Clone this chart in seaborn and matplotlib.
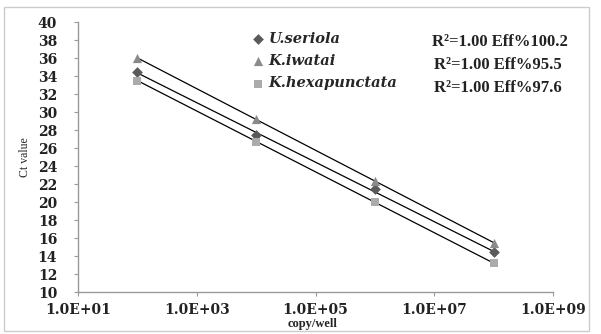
import numpy as np
import pandas as pd
import matplotlib
matplotlib.use("Agg")
import matplotlib.pyplot as plt
import seaborn as sns
from matplotlib.patches import Rectangle

copies = [1e2, 1e4, 1e6, 1e8]
u_seriola = [34.4, 27.5, 21.4, 14.4]
k_iwatai = [36.0, 29.2, 22.3, 15.5]
k_hexapunctata = [33.5, 26.7, 20.0, 13.2]
series_names = ["U.seriola", "K.iwatai", "K.hexapunctata"]
stats_text = ["R²=1.00 Eff%100.2", "R²=1.00 Eff%95.5", "R²=1.00 Eff%97.6"]
y_ticks = list(range(10, 41, 2))
x_ticks = [1e1, 1e3, 1e5, 1e7, 1e9]
x_ticklabels = ["1.0E+01", "1.0E+03", "1.0E+05", "1.0E+07", "1.0E+09"]

df = pd.DataFrame({
    "copy": copies * 3,
    "ct": u_seriola + k_iwatai + k_hexapunctata,
    "series": [s for s in series_names for _ in copies],
})

sns.set_style("white")
plt.rcParams["font.family"] = ["DejaVu Serif"]

fig = plt.figure(figsize=(6.01, 3.34), dpi=100)
ax = fig.add_axes([78/601, 1-292/334, (553-78)/601, (292-22)/334])
ax.set_xscale("log")

colors = {"U.seriola": "#5a5a5a", "K.iwatai": "#8a8a8a", "K.hexapunctata": "#ababab"}
markers = {"U.seriola": "D", "K.iwatai": "^", "K.hexapunctata": "s"}
sizes = {"U.seriola": 30, "K.iwatai": 44, "K.hexapunctata": 38}

for name in series_names:
    sub = df[df.series == name]
    sns.regplot(data=sub, x="copy", y="ct", logx=True, ci=None, scatter=False,
                ax=ax, line_kws=dict(color="black", lw=0.9))

handles = []
for name in series_names:
    sub = df[df.series == name]
    h = ax.scatter(sub["copy"], sub["ct"], marker=markers[name], s=sizes[name],
                   color=colors[name], zorder=3, linewidths=0, label=name)
    handles.append(h)

ax.set_xlim(1e1, 1e9)
ax.set_ylim(10, 40)
ax.set_yticks(y_ticks)
ax.set_xticks(x_ticks)
ax.set_xticklabels(x_ticklabels)
ax.minorticks_off()
ax.tick_params(axis="y", labelsize=10, length=3, pad=12, color="#999999", left=True, direction="out")
ax.tick_params(axis="x", labelsize=10, length=3, pad=5, color="#999999", bottom=True, direction="out")
for lab in ax.get_xticklabels() + ax.get_yticklabels():
    lab.set_fontweight("bold")
    lab.set_color("#222222")
for s in ["top", "right"]:
    ax.spines[s].set_visible(False)
for s in ["left", "bottom"]:
    ax.spines[s].set_color("#999999")
    ax.spines[s].set_linewidth(1.0)

ax.set_xlabel("copy/well", fontsize=9, fontweight="bold", family="Liberation Serif")
ax.set_ylabel("Ct value", fontsize=8.5, family="Liberation Serif")
ax.xaxis.set_label_coords((313-78)/(553-78), -0.098)
ax.yaxis.set_label_coords(-0.10, 0.50)

leg = ax.legend(handles=handles, labels=series_names, loc="upper left",
                bbox_to_anchor=(243/601, 1-25/334), bbox_transform=fig.transFigure,
                frameon=False, handletextpad=0.25, labelspacing=0.55, borderpad=0,
                handlelength=1.0, prop=dict(family="DejaVu Serif", style="italic", weight="bold", size=10.5))

ys = [42, 65, 88]
xs = [432, 434, 434]
for t, x, y in zip(stats_text, xs, ys):
    fig.text(x/601, 1-y/334, t, fontsize=12, fontweight="bold", family="Liberation Serif",
             va="center", ha="left", color="#222222")

fig.patches.append(Rectangle((4/601, 1-331/334), 585/601, 324/334, transform=fig.transFigure,
                             fill=False, edgecolor="#cccccc", lw=1.0))

fig.savefig("out.png", dpi=100)
